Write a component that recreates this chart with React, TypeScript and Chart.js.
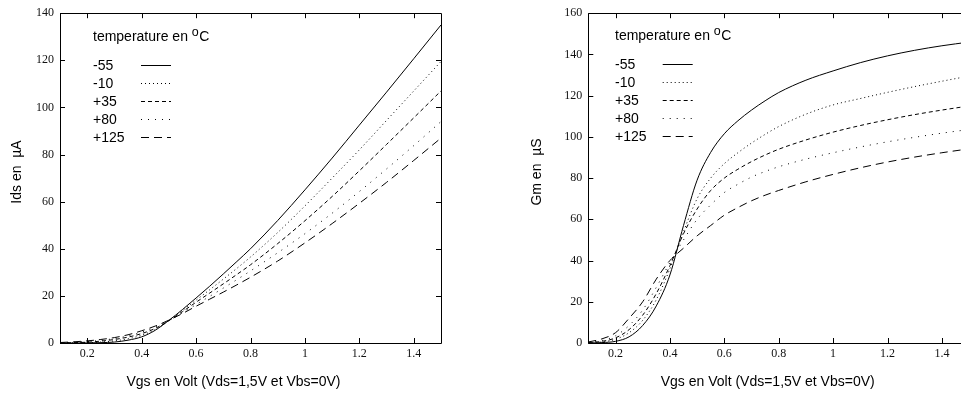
import React, { useEffect, useRef } from "react";
import { Chart, registerables } from "chart.js";

Chart.register(...registerables);

// ---------------- data ----------------
const VGS = [0.1, 0.15, 0.2, 0.25, 0.3, 0.35, 0.4, 0.45, 0.5, 0.55, 0.6, 0.65, 0.7, 0.75, 0.8, 0.9, 1.0, 1.1, 1.2, 1.3, 1.4, 1.5];
const TEMPERATURES = ["-55", "-10", "+35", "+80", "+125"];

// Ids (µA) vs Vgs
const IDS_M55 = [0, 0, 0.05, 0.15, 0.4, 1.2, 2.6, 5.4, 9.6, 14.2, 19.1, 24.1, 29.3, 34.6, 40, 52, 65, 78.5, 92.5, 106.5, 120.7, 135];
const IDS_M10 = [0, 0.05, 0.15, 0.4, 0.9, 1.8, 3.3, 5.7, 9.5, 13.8, 18.2, 22.6, 27.1, 31.7, 36.5, 46.9, 58.2, 70, 82, 94.5, 107, 119.5];
const IDS_P35 = [0.05, 0.15, 0.35, 0.8, 1.5, 2.5, 4, 6.2, 9.5, 13.3, 17.3, 21.2, 25.1, 29.1, 33.2, 42.2, 51.9, 62.2, 73.1, 84.3, 95.6, 107];
const IDS_P80 = [0.1, 0.3, 0.6, 1.1, 1.9, 3, 4.6, 6.7, 9.5, 12.8, 16.3, 19.8, 23.3, 26.9, 30.6, 38.3, 46.4, 55.1, 64.3, 73.9, 83.8, 94];
const IDS_P125 = [0.2, 0.5, 0.9, 1.5, 2.3, 3.5, 5.2, 7.2, 9.7, 12.5, 15.6, 18.6, 21.6, 24.7, 27.9, 34.8, 42.5, 50.7, 59.3, 68.2, 77.5, 87];

// Gm (µS) vs Vgs
const GM_M55 = [0, 0.2, 0.8, 3, 8.5, 18, 33, 57, 79, 92.5, 101.5, 107.8, 113, 117.5, 121.5, 127.5, 132, 136, 139.3, 142, 144.2, 146];
const GM_M10 = [0.1, 0.5, 1.8, 5, 11, 21, 36, 54, 70, 80, 87, 92.3, 97, 101.2, 105, 111, 115.5, 118.6, 121.6, 124.4, 127, 129.5];
const GM_P35 = [0.2, 0.8, 2.5, 6.5, 13.5, 24, 37.5, 53, 65, 74, 80, 84.3, 88, 91.2, 94, 98.5, 102.3, 105.5, 108.3, 110.8, 113, 115];
const GM_P80 = [0.3, 1.2, 3.5, 8.5, 16, 27, 39, 50, 60, 67, 73, 77, 80.5, 83.2, 85.5, 89.2, 92.3, 95.1, 97.6, 99.8, 101.8, 103.6];
const GM_P125 = [0.5, 2, 5, 12, 20, 31, 40, 46, 52, 57, 62, 65.7, 69, 71.7, 74, 78.2, 81.8, 85, 87.8, 90.2, 92.3, 94.2];

const X_TICKS = [0.2, 0.4, 0.6, 0.8, 1.0, 1.2, 1.4];
const IDS_TICKS = [0, 20, 40, 60, 80, 100, 120, 140];
const GM_TICKS = [0, 20, 40, 60, 80, 100, 120, 140, 160];

const X_TITLE = "Vgs en Volt (Vds=1,5V et Vbs=0V)";
const IDS_TITLE = "Ids en  \u00b5A";
const GM_TITLE = "Gm en  \u00b5S";
const LEGEND_TITLE = "temperature en ";

// ---------------- styles ----------------
const DASHES: number[][] = [[], [1, 3], [4, 3], [1, 6], [8, 5]];
const SANS = '"Liberation Sans", Arial, sans-serif';
const SERIF = '"Liberation Serif", "Times New Roman", serif';

const decorPlugin = {
  id: "panelDecor",
  afterDraw(chart: any, _args: any, o: any) {
    const { ctx, chartArea: a, scales } = chart;
    const xs = scales.x;
    const ys = scales.y;
    ctx.save();
    ctx.strokeStyle = "#000";
    ctx.lineWidth = 1;
    ctx.setLineDash([]);
    // frame
    ctx.beginPath();
    ctx.rect(Math.round(a.left) + 0.5, Math.round(a.top) + 0.5, Math.round(a.right - a.left), Math.round(a.bottom - a.top));
    ctx.stroke();
    // inward ticks
    const TL = 5;
    ctx.beginPath();
    for (const t of xs.ticks) {
      const px = Math.round(xs.getPixelForValue(t.value)) + 0.5;
      ctx.moveTo(px, a.bottom);
      ctx.lineTo(px, a.bottom - TL);
      ctx.moveTo(px, a.top);
      ctx.lineTo(px, a.top + TL);
    }
    for (const t of ys.ticks) {
      const py = Math.round(ys.getPixelForValue(t.value)) + 0.5;
      ctx.moveTo(a.left, py);
      ctx.lineTo(a.left + TL, py);
      ctx.moveTo(a.right, py);
      ctx.lineTo(a.right - TL, py);
    }
    ctx.stroke();

    // legend
    ctx.fillStyle = "#000";
    ctx.textBaseline = "alphabetic";
    ctx.textAlign = "left";
    ctx.font = "14px " + SANS;
    const tx = a.left + o.legendX;
    const ty = a.top + o.legendTitleY;
    ctx.fillText(LEGEND_TITLE, tx, ty);
    let w = ctx.measureText(LEGEND_TITLE).width;
    ctx.font = "12.5px " + SANS;
    ctx.fillText("o", tx + w, ty - 4.5);
    w += ctx.measureText("o").width + 0.5;
    ctx.font = "14px " + SANS;
    ctx.fillText("C", tx + w, ty + 0.5);

    const datasets = chart.data.datasets;
    datasets.forEach((ds: any, i: number) => {
      const by = a.top + o.legendRowY + i * 18;
      ctx.font = "14px " + SANS;
      ctx.fillText(ds.label, tx, by);
      ctx.beginPath();
      ctx.setLineDash(ds.borderDash || []);
      ctx.lineWidth = 1;
      const ly = Math.round(by - 5.3) + 0.5;
      ctx.moveTo(a.left + o.sampleX0, ly);
      ctx.lineTo(a.left + o.sampleX1, ly);
      ctx.stroke();
    });
    ctx.setLineDash([]);

    // axis titles
    ctx.font = "14px " + SANS;
    ctx.textAlign = "center";
    ctx.textBaseline = "alphabetic";
    ctx.fillText(X_TITLE, o.xTitleX, o.xTitleY);
    ctx.save();
    ctx.translate(o.yTitleX, o.yTitleY);
    ctx.rotate(-Math.PI / 2);
    ctx.textBaseline = "middle";
    ctx.fillText(o.yTitle, 0, 0);
    ctx.restore();
    ctx.restore();
  },
};

function fmtX(v: number) {
  return String(Math.round(v * 10) / 10);
}

function makeConfig(series: number[][], yMax: number, yTicks: number[], spec: any) {
  return {
    type: "line",
    data: {
      datasets: series.map((vals, i) => ({
        label: TEMPERATURES[i],
        data: VGS.map((x, j) => ({ x, y: vals[j] })),
        borderColor: "#000",
        borderWidth: 1,
        borderDash: DASHES[i],
        pointRadius: 0,
        fill: false,
        cubicInterpolationMode: "monotone",
      })),
    },
    options: {
      animation: false,
      responsive: false,
      events: [],
      layout: { padding: spec.padding },
      plugins: {
        legend: { display: false },
        tooltip: { enabled: false },
        title: { display: false },
        panelDecor: spec.decor,
      },
      scales: {
        x: {
          type: "linear",
          min: 0.1,
          max: 1.5,
          afterBuildTicks: (s: any) => {
            s.ticks = X_TICKS.map((v) => ({ value: v }));
          },
          afterFit: (s: any) => {
            s.height = spec.xAxisHeight;
          },
          grid: { display: false, drawTicks: false },
          border: { display: false },
          ticks: {
            color: "#111",
            font: { family: SERIF, size: 12 },
            padding: 4,
            maxRotation: 0,
            autoSkip: false,
            callback: (v: any) => fmtX(Number(v)),
          },
        },
        y: {
          type: "linear",
          min: 0,
          max: yMax,
          afterBuildTicks: (s: any) => {
            s.ticks = yTicks.map((v) => ({ value: v }));
          },
          afterFit: (s: any) => {
            s.width = spec.yAxisWidth;
          },
          grid: { display: false, drawTicks: false },
          border: { display: false },
          ticks: {
            color: "#111",
            font: { family: SERIF, size: 12 },
            padding: 6,
            autoSkip: false,
            callback: (v: any) => String(v),
          },
        },
      },
    },
    plugins: [decorPlugin],
  };
}

function Panel(props: { left: number; width: number; config: any }) {
  const ref = useRef<HTMLCanvasElement | null>(null);
  useEffect(() => {
    if (!ref.current) return;
    const chart = new Chart(ref.current, props.config);
    return () => chart.destroy();
  }, []);
  return (
    <canvas
      ref={ref}
      width={props.width}
      height={394}
      style={{ position: "absolute", left: props.left, top: 0, width: props.width, height: 394 }}
    />
  );
}

export default function App() {
  const idsConfig = makeConfig([IDS_M55, IDS_M10, IDS_P35, IDS_P80, IDS_P125], 140, IDS_TICKS, {
    padding: { left: 0, top: 9, right: 39, bottom: 0 },
    yAxisWidth: 60,
    xAxisHeight: 51,
    decor: {
      legendX: 33,
      legendTitleY: 27.7,
      legendRowY: 57,
      sampleX0: 81,
      sampleX1: 111,
      xTitleX: 233.5,
      xTitleY: 385.7,
      yTitleX: 17,
      yTitleY: 172,
      yTitle: IDS_TITLE,
    },
  });
  const gmConfig = makeConfig([GM_M55, GM_M10, GM_P35, GM_P80, GM_P125], 160, GM_TICKS, {
    padding: { left: 0, top: 10, right: 10.9, bottom: 0 },
    yAxisWidth: 108.3,
    xAxisHeight: 51,
    decor: {
      legendX: 26.7,
      legendTitleY: 26.7,
      legendRowY: 56,
      sampleX0: 74.4,
      sampleX1: 104.4,
      xTitleX: 287.7,
      xTitleY: 385.7,
      yTitleX: 57.5,
      yTitleY: 172,
      yTitle: GM_TITLE,
    },
  });
  return (
    <div
      style={{
        position: "fixed",
        left: 0,
        top: 0,
        width: 961,
        height: 394,
        overflow: "hidden",
        background: "#fff",
      }}
    >
      <Panel left={0} width={480} config={idsConfig} />
      <Panel left={480} width={500} config={gmConfig} />
    </div>
  );
}
